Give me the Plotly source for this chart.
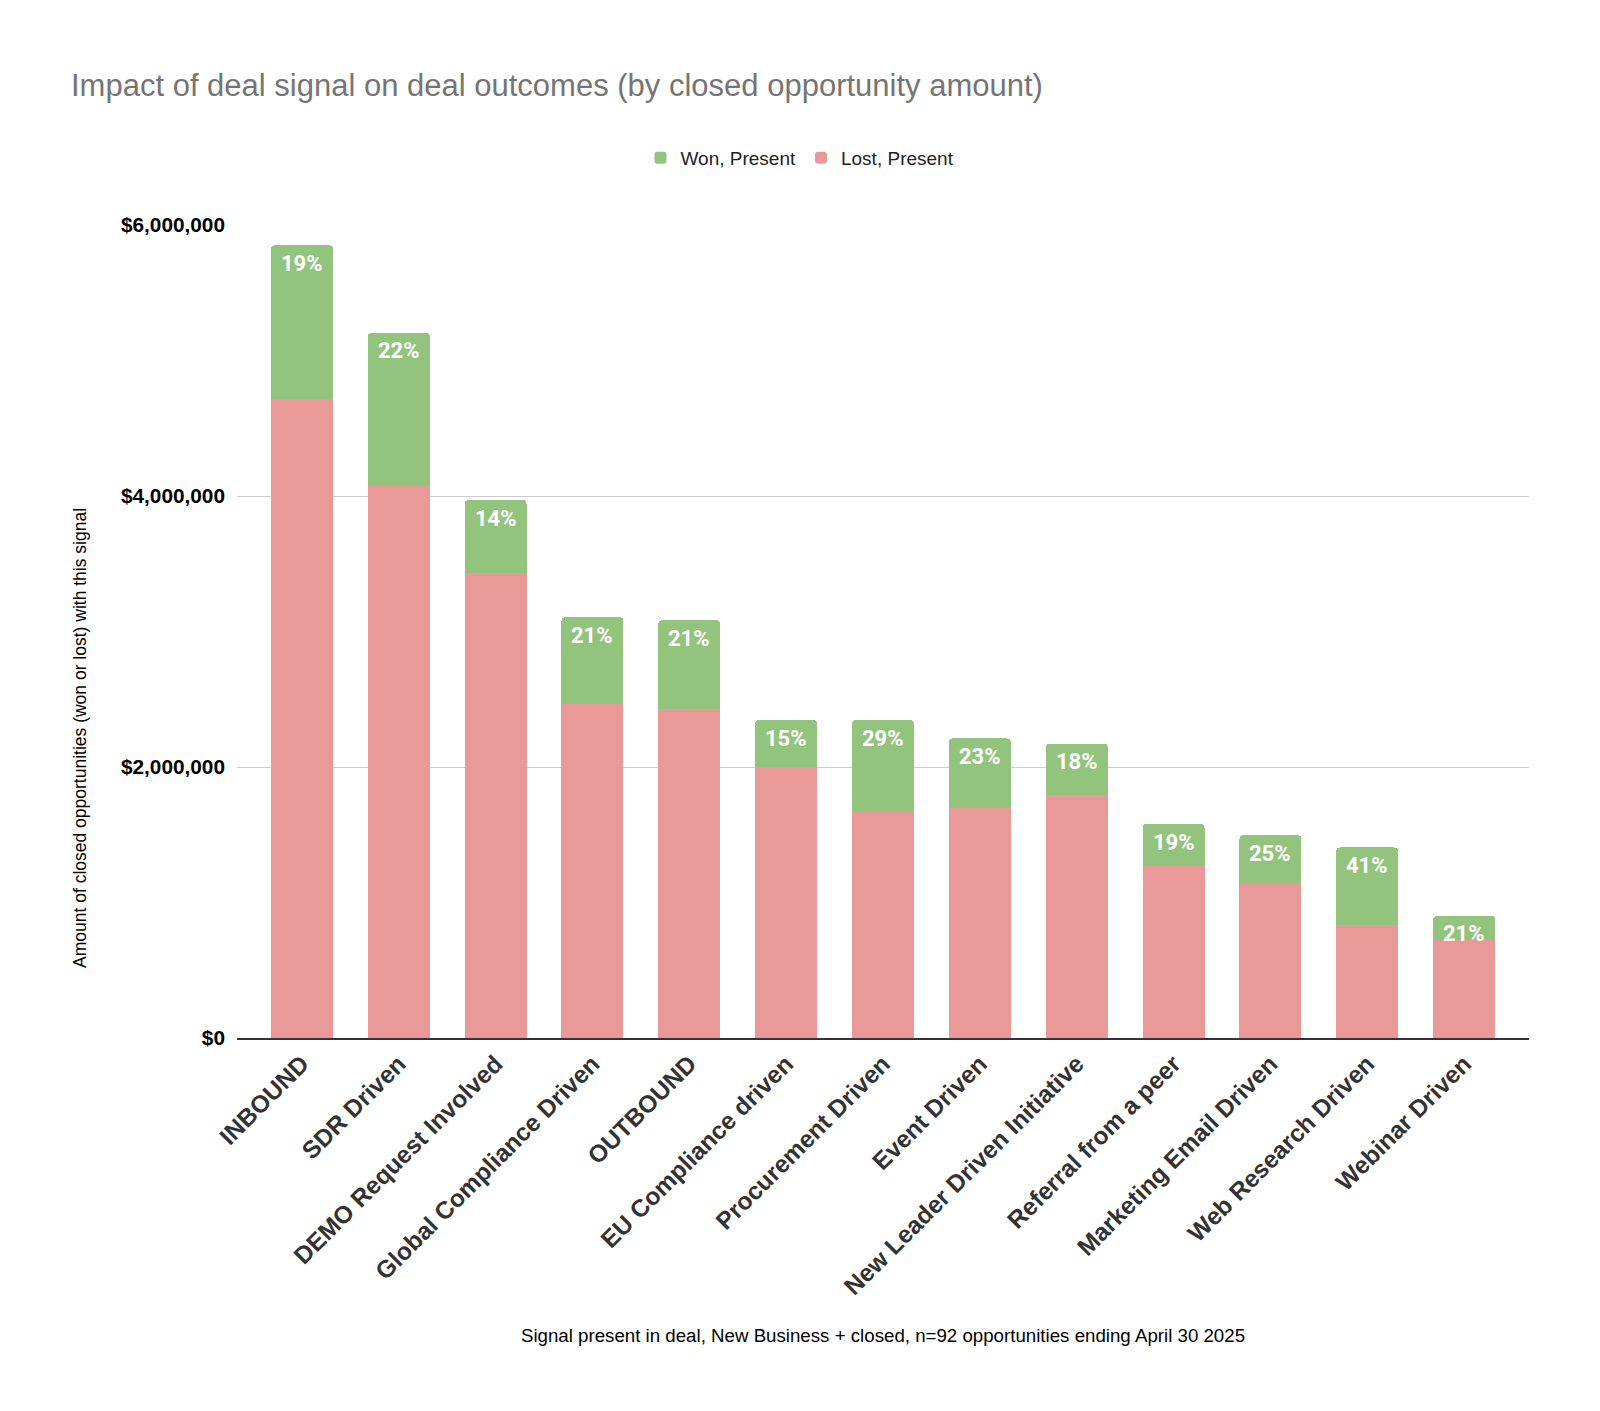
import plotly.graph_objects as go

signals = [
    "INBOUND", "SDR Driven", "DEMO Request Involved", "Global Compliance Driven",
    "OUTBOUND", "EU Compliance driven", "Procurement Driven", "Event Driven",
    "New Leader Driven Initiative", "Referral from a peer", "Marketing Email Driven",
    "Web Research Driven", "Webinar Driven",
]
lost_present = [
    4714000, 4075000, 3429000, 2466000, 2429000, 2000000, 1669000,
    1699000, 1790000, 1271000, 1135000, 835000, 722000,
]
won_present = [
    1136000, 1128000, 541000, 639000, 654000, 346000, 677000,
    512000, 383000, 308000, 361000, 571000, 180000,
]
win_rate_labels = ["19%", "22%", "14%", "21%", "21%", "15%", "29%",
                   "23%", "18%", "19%", "25%", "41%", "21%"]

fig = go.Figure()
fig.add_trace(go.Bar(
    x=signals, y=lost_present, name="Lost, Present",
    marker=dict(color="#ea9999", line=dict(width=0)),
))
fig.add_trace(go.Bar(
    x=signals, y=won_present, name="Won, Present",
    marker=dict(color="#93c47d", line=dict(width=0)),
))

# win-rate labels just under the top of each stack
label_annotations = []
for sig, lost, won, lbl in zip(signals, lost_present, won_present, win_rate_labels):
    label_annotations.append(dict(
        x=sig, y=lost + won, xref="x", yref="y", text=lbl, showarrow=False,
        yanchor="middle", yshift=-18,
        font=dict(family="Roboto", size=22, color="white", weight="bold"),
    ))

label_annotations.append(dict(
    text="Amount of closed opportunities (won or lost) with this signal",
    xref="paper", yref="paper", x=(72 - 229) / 1292, y=0.369,
    xanchor="center", yanchor="middle", textangle=-90, showarrow=False,
    font=dict(size=17.5, color="#000000"),
))

# plot area in figure pixels: x 229..1521, y 217..1030
fig.update_layout(
    width=1600, height=1411,
    barmode="stack", bargap=0.36, barcornerradius=4,
    plot_bgcolor="white", paper_bgcolor="white",
    font=dict(family="Arial, Liberation Sans", color="#000000"),
    margin=dict(l=229, r=79, t=217, b=381),
    title=dict(
        text="Impact of deal signal on deal outcomes (by closed opportunity amount)",
        x=63 / 1600, xanchor="left", y=1 - 77 / 1411, yanchor="middle",
        font=dict(size=31, color="#757575"),
    ),
    legend=dict(
        orientation="h", traceorder="reversed",
        x=(792 - 229) / 1292, xanchor="center", y=1 + 67 / 813, yanchor="middle",
        font=dict(size=19, color="#222222"),
    ),
    xaxis=dict(
        range=[-0.67, 12.67],
        tickangle=-45, tickfont=dict(size=24.5, color="#333333", weight="bold"),
        showline=True, linecolor="#333333", linewidth=1.5, ticks="",
        title=dict(
            text="Signal present in deal, New Business + closed, n=92 opportunities ending April 30 2025",
            font=dict(size=18.7),
        ),
    ),
    yaxis=dict(
        range=[0, 6000000], tickvals=[0, 2000000, 4000000, 6000000],
        tickformat="$,.0f", tickfont=dict(size=20.8, weight="bold"),
        gridcolor="#cccccc", gridwidth=1, zeroline=False, ticks="",
        ticklen=0, ticklabelstandoff=11,
    ),
    annotations=label_annotations,
)
fig.update_xaxes(title_standoff=30)

fig.write_html("out.html")
